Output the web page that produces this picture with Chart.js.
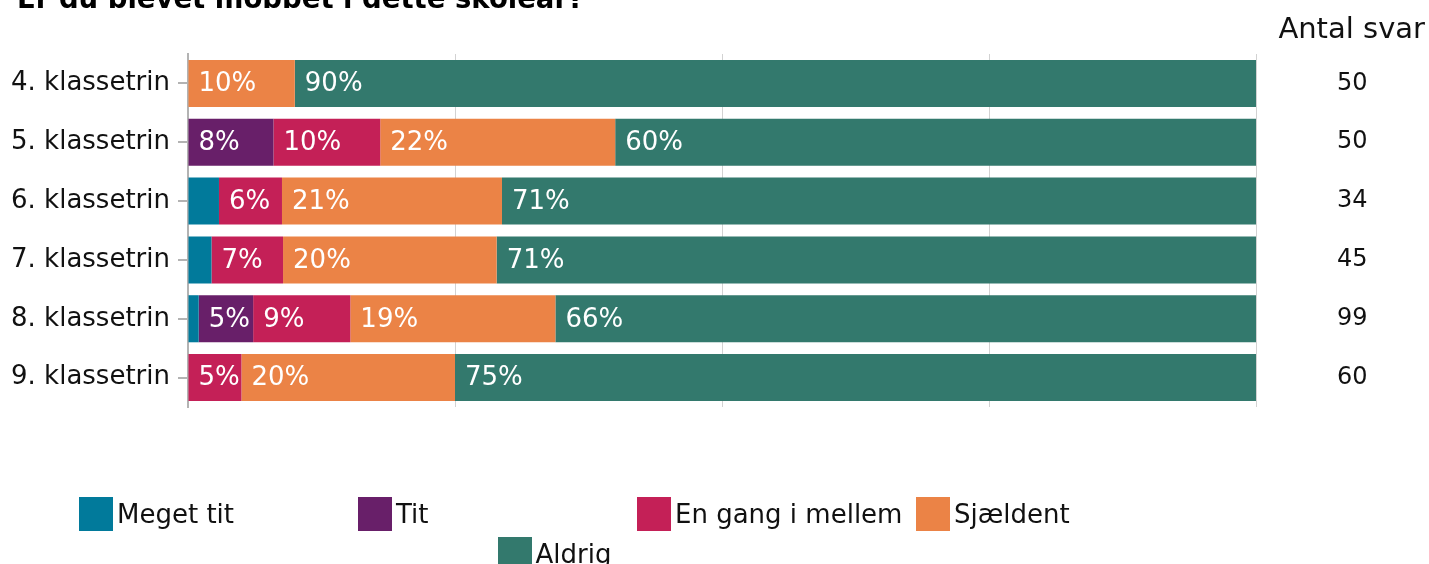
<!DOCTYPE html>
<html>
<head>
<meta charset="utf-8">
<script src="https://cdn.jsdelivr.net/npm/chart.js@4"></script>
<style>
  body { margin: 0; background: #fff; font-family: 'DejaVu Sans', Verdana, sans-serif; }
  #page { position: relative; width: 1429px; height: 564px; overflow: hidden; }
  #wrap { position: absolute; left: 0; top: 0; width: 1429px; height: 564px; }
  #title { position: absolute; left: 17px; top: -15px; font-size: 27.5px; line-height: 27px; font-weight: bold; color: #000; white-space: nowrap; }
  #antal { position: absolute; right: 4px; top: 14px; font-size: 29px; line-height: 29px; color: #111; white-space: nowrap; }
  #legend { position: absolute; left: 79px; top: 497px; width: 1116px; display: flex; flex-wrap: wrap; justify-content: center; row-gap: 6px; }
  .item { width: 279px; height: 34px; display: flex; align-items: center; font-size: 26px; color: #111; white-space: nowrap; }
  .box { width: 34px; height: 34px; margin-right: 4px; flex: none; }
</style>
</head>
<body>
<div id="page">
  <div id="wrap"><canvas class="jsMobbetChart"></canvas></div>
  <div id="title">Er du blevet mobbet i dette skoleår?</div>
  <div id="antal">Antal svar</div>
  <div id="legend"></div>
</div>
<script>
'use strict';

let classes = ['4. klassetrin', '5. klassetrin', '6. klassetrin', '7. klassetrin', '8. klassetrin', '9. klassetrin'],
  antalSvar = [50, 50, 34, 45, 99, 60],
  megetTit = [0, 0, 2.9, 2.2, 1.0, 0],
  tit = [0, 8, 0, 0, 5.1, 0],
  enGang = [0, 10, 5.9, 6.7, 9.1, 5],
  sjaeldent = [10, 22, 20.6, 20.0, 19.2, 20],
  aldrig = [90, 60, 70.6, 71.1, 65.7, 75];

const FONT = 'DejaVu Sans';

// percent labels inside the segments
const barLabels = {
  id: 'barLabels',
  afterDatasetsDraw(chart) {
    let ctx = chart.ctx;
    ctx.save();
    ctx.font = '26px "' + FONT + '"';
    ctx.fillStyle = '#fff';
    ctx.textAlign = 'left';
    ctx.textBaseline = 'middle';
    chart.data.datasets.forEach((ds, i) => {
      chart.getDatasetMeta(i).data.forEach((bar, j) => {
        let v = ds.data[j];
        if (v < 4.5) return;
        ctx.fillText(Math.round(v) + '%', Math.min(bar.base, bar.x) + 10, bar.y + 1);
      });
    });
    ctx.restore();
  }
};

function _buildMobbetChart() {
  let ctx = document.querySelector('.jsMobbetChart');

  return new Chart(ctx, {
    type: 'bar',
    data: {
      labels: classes,
      datasets: [
        { label: 'Meget tit', data: megetTit, backgroundColor: '#017a9b' },
        { label: 'Tit', data: tit, backgroundColor: '#681f69' },
        { label: 'En gang i mellem', data: enGang, backgroundColor: '#c42057' },
        { label: 'Sjældent', data: sjaeldent, backgroundColor: '#eb8346' },
        { label: 'Aldrig', data: aldrig, backgroundColor: '#33796d' }
      ]
    },
    plugins: [barLabels],
    options: {
      indexAxis: 'y',
      responsive: true,
      maintainAspectRatio: false,
      animation: false,
      barPercentage: 0.8,
      categoryPercentage: 1,
      layout: { padding: { left: 0, right: 0, top: 54, bottom: 157 } },
      plugins: {
        legend: { display: false },
        tooltip: { enabled: false }
      },
      scales: {
        x: {
          stacked: true,
          min: 0,
          max: 100,
          ticks: { display: false, stepSize: 25 },
          grid: { color: '#d2d2d2', lineWidth: 1, drawTicks: false },
          border: { display: false }
        },
        y: {
          stacked: true,
          offset: true,
          grid: { offset: false, drawOnChartArea: false, drawTicks: true, tickLength: 10, color: '#b3b3b3', lineWidth: 2 },
          border: { color: '#b3b3b3', width: 2 },
          ticks: { color: '#111', padding: 8, font: { family: FONT, size: 26 } },
          afterFit(scale) { scale.width = 188; }
        },
        y2: {
          type: 'category',
          position: 'right',
          labels: antalSvar.map(String),
          offset: true,
          grid: { display: false, drawTicks: false },
          border: { display: false },
          ticks: { color: '#111', padding: 81, crossAlign: 'center', font: { family: FONT, size: 24 } },
          afterFit(scale) {
            scale.width = 173;
            scale.paddingTop = 0;
            scale.paddingBottom = 0;
          }
        }
      }
    }
  });
}

function _buildLegend(chart) {
  let el = document.getElementById('legend');
  chart.data.datasets.forEach(ds => {
    let item = document.createElement('div'),
      box = document.createElement('span'),
      txt = document.createElement('span');
    item.className = 'item';
    box.className = 'box';
    box.style.background = ds.backgroundColor;
    txt.textContent = ds.label;
    item.appendChild(box);
    item.appendChild(txt);
    el.appendChild(item);
  });
}

_buildLegend(_buildMobbetChart());
</script>
</body>
</html>
